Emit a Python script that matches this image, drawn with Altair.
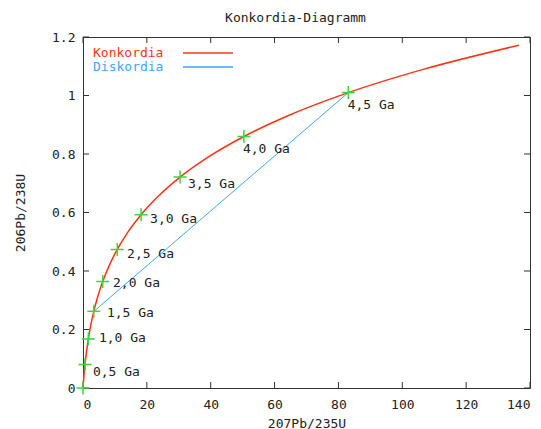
import altair as alt
import pandas as pd

# Concordia curve (207Pb/235U, 206Pb/238U), t = 0 .. 5.0 Ga in 0.25 Ga steps
curve_x = [0.0, 0.2792, 0.6363, 1.0931, 1.6774, 2.4249, 3.3813, 4.6046, 6.1694,
           8.1697, 10.730, 14.005, 18.193, 23.551, 30.406, 39.174, 50.388,
           64.733, 83.087, 106.558, 136.586]
curve_y = [0.0, 0.03954, 0.08065, 0.12338, 0.16781, 0.21399, 0.26200, 0.31190,
           0.36377, 0.41770, 0.47376, 0.53204, 0.59262, 0.65560, 0.72106,
           0.78912, 0.85987, 0.93341, 1.00986, 1.08933, 1.17195]

# Age markers
age_x = [0.0, 0.6363, 1.6774, 3.3813, 6.1694, 10.730, 18.193, 30.406, 50.388, 83.087]
age_y = [0.0, 0.08065, 0.16781, 0.26200, 0.36377, 0.47376, 0.59262, 0.72106, 0.85987, 1.00986]

# Age labels (anchor positions in data units)
label_text = ["0,5 Ga", "1,0 Ga", "1,5 Ga", "2,0 Ga", "2,5 Ga",
              "3,0 Ga", "3,5 Ga", "4,0 Ga", "4,5 Ga"]
label_x = [3.1, 5.0, 7.5, 9.4, 13.8, 21.0, 32.9, 50.1, 82.9]
label_y = [0.055, 0.171, 0.256, 0.359, 0.458, 0.578, 0.697, 0.817, 0.968]

# Discordia line
disc_x = [3.3813, 83.087]
disc_y = [0.26200, 1.00986]

# Ticks
x_ticks = [0, 20, 40, 60, 80, 100, 120, 140]
y_ticks = [0, 0.2, 0.4, 0.6, 0.8, 1.0, 1.2]

W, H = 447, 351
FONT = "DejaVu Sans Mono"
FS = 13
RED = "#ff3311"
BLUE = "#3ea6ff"
GREEN = "#3fd43f"
TXT = "#222222"

xs = alt.Scale(domain=[0, 140], nice=False, zero=False)
ys = alt.Scale(domain=[0, 1.2], nice=False, zero=False)

curve_df = pd.DataFrame({"x": curve_x, "y": curve_y})
age_df = pd.DataFrame({"x": age_x, "y": age_y})
lab_df = pd.DataFrame({"x": label_x, "y": label_y, "t": label_text})
disc_df = pd.DataFrame({"x": disc_x, "y": disc_y})
xt_df = pd.DataFrame({"v": x_ticks})
yt_df = pd.DataFrame({"v": y_ticks})

axis_style = dict(grid=False, domain=False, ticks=False,
                  labelFont=FONT, labelFontSize=FS, labelColor=TXT,
                  titleFont=FONT, titleFontSize=FS, titleColor=TXT,
                  titleFontWeight="normal")

base_x = alt.X("x:Q", scale=xs,
               axis=alt.Axis(values=x_ticks, title="207Pb/235U",
                             labelPadding=10, titlePadding=6, format="d",
                             **axis_style))
base_y = alt.Y("y:Q", scale=ys,
               axis=alt.Axis(values=y_ticks, title="206Pb/238U",
                             labelPadding=8, titlePadding=24, format="~g",
                             **axis_style))

curve = alt.Chart(curve_df).mark_line(color=RED, strokeWidth=1.5,
                                      interpolate="monotone").encode(
    x=base_x, y=base_y, order="x:Q")

disc = alt.Chart(disc_df).mark_line(color=BLUE, strokeWidth=1).encode(
    x=alt.X("x:Q", scale=xs), y=alt.Y("y:Q", scale=ys))

marks = alt.Chart(age_df).mark_point(
    shape="M-1,0L1,0M0,-1L0,1", size=169, strokeWidth=1.5,
    color=GREEN, filled=False, opacity=1).encode(
    x=alt.X("x:Q", scale=xs), y=alt.Y("y:Q", scale=ys))

labels = alt.Chart(lab_df).mark_text(
    align="left", baseline="middle", font=FONT, fontSize=FS, color=TXT).encode(
    x=alt.X("x:Q", scale=xs), y=alt.Y("y:Q", scale=ys), text="t:N")

tick_len = 6
xt_bottom = alt.Chart(xt_df).mark_rule(color="#333333", strokeWidth=1).encode(
    x=alt.X("v:Q", scale=xs), y=alt.value(H), y2=alt.value(H - tick_len))
xt_top = alt.Chart(xt_df).mark_rule(color="#333333", strokeWidth=1).encode(
    x=alt.X("v:Q", scale=xs), y=alt.value(0), y2=alt.value(tick_len))
yt_left = alt.Chart(yt_df).mark_rule(color="#333333", strokeWidth=1).encode(
    y=alt.Y("v:Q", scale=ys), x=alt.value(0), x2=alt.value(tick_len))
yt_right = alt.Chart(yt_df).mark_rule(color="#333333", strokeWidth=1).encode(
    y=alt.Y("v:Q", scale=ys), x=alt.value(W - tick_len), x2=alt.value(W))

one = pd.DataFrame({"a": [0]})
leg_k_text = alt.Chart(one).mark_text(
    align="left", baseline="middle", font=FONT, fontSize=FS, color=RED).encode(
    x=alt.value(10), y=alt.value(16), text=alt.value("Konkordia"))
leg_k_line = alt.Chart(one).mark_rule(color=RED, strokeWidth=1.5).encode(
    x=alt.value(100), x2=alt.value(150), y=alt.value(16))
leg_d_text = alt.Chart(one).mark_text(
    align="left", baseline="middle", font=FONT, fontSize=FS, color=BLUE).encode(
    x=alt.value(10), y=alt.value(30), text=alt.value("Diskordia"))
leg_d_line = alt.Chart(one).mark_rule(color=BLUE, strokeWidth=1.5).encode(
    x=alt.value(100), x2=alt.value(150), y=alt.value(30))

chart = alt.layer(
    xt_bottom, xt_top, yt_left, yt_right,
    curve, disc, marks, labels,
    leg_k_text, leg_k_line, leg_d_text, leg_d_line
).properties(
    width=W, height=H,
    title=alt.TitleParams("Konkordia-Diagramm", font=FONT, fontSize=FS,
                          fontWeight="normal", color=TXT, dx=-11, offset=6),
    autosize=alt.AutoSizeParams(type="none"),
    padding={"left": 75, "top": 29, "right": 3, "bottom": 41},
    background="white",
).configure_view(
    stroke="#333333", strokeWidth=1
)

chart.save("out.html", embed_options={"renderer": "svg", "actions": False})
